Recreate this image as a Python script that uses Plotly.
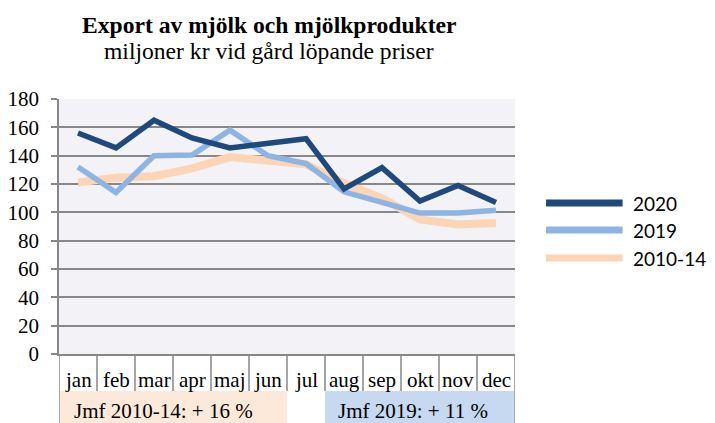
import plotly.graph_objects as go

months = ["jan", "feb", "mar", "apr", "maj", "jun", "jul", "aug", "sep", "okt", "nov", "dec"]
s2020 = [156, 145.5, 165, 152.5, 145.5, 149, 152, 116.5, 131.5, 108, 119, 107]
s2019 = [132, 114, 140, 140.5, 158, 140, 134.5, 114.5, 107, 99.5, 99.5, 101.5]
s1014 = [121, 124.5, 125.5, 131, 139, 137, 134, 120.5, 110, 95, 91.5, 92.5]
series_names = ["2020", "2019", "2010-14"]
series_colors = ["#1F497D", "#8DB4E2", "#FBD5B5"]
series_widths = [5.5, 5.5, 8]
yticks = [0, 20, 40, 60, 80, 100, 120, 140, 160, 180]
notes = ["Jmf 2010-14: + 16 %", "Jmf 2019: + 11 %"]

serif = "Liberation Serif"
x = list(range(len(months)))

fig = go.Figure()
for vals, name, col, w in reversed(list(zip([s2020, s2019, s1014], series_names, series_colors, series_widths))):
    fig.add_trace(go.Scatter(x=x, y=vals, mode="lines", name=name,
                             line=dict(color=col, width=w), showlegend=False))

shapes = []
annotations = []
grey = "#878787"

# note boxes
shapes.append(dict(type="rect", xref="x", yref="paper", x0=-0.47, x1=5.5, y0=-0.145, y1=-0.30,
                   fillcolor="#FDE9D9", line=dict(width=0), layer="below"))
shapes.append(dict(type="rect", xref="x", yref="paper", x0=6.5, x1=11.47, y0=-0.145, y1=-0.30,
                   fillcolor="#C6D9F0", line=dict(width=0), layer="below"))

# category separators below the axis
for i in range(len(months) + 1):
    full = i in (0, len(months))
    shapes.append(dict(type="line", xref="x", yref="paper", x0=i - 0.5, x1=i - 0.5,
                       y0=0, y1=-0.30 if full else -0.145, line=dict(color=grey, width=1.5)))
for i, m in enumerate(months):
    annotations.append(dict(x=i, y=-0.102, xref="x", yref="paper", text=m, showarrow=False,
                            font=dict(family=serif, size=21, color="black"), yanchor="middle"))

annotations.append(dict(x=-0.16, y=-0.224, xref="x", yref="paper", text=notes[0], showarrow=False,
                        xanchor="left", yanchor="middle", font=dict(family=serif, size=21, color="black")))
annotations.append(dict(x=6.8, y=-0.224, xref="x", yref="paper", text=notes[1], showarrow=False,
                        xanchor="left", yanchor="middle", font=dict(family=serif, size=21, color="black")))

# custom legend
leg_y = [0.592, 0.486, 0.376]
for name, col, yy in zip(series_names, series_colors, leg_y):
    shapes.append(dict(type="line", xref="paper", yref="paper", x0=1.068, x1=1.236, y0=yy, y1=yy,
                       line=dict(color=col, width=7)))
    annotations.append(dict(x=1.254, y=yy, xref="paper", yref="paper", text=name, showarrow=False,
                            xanchor="left", yanchor="middle", font=dict(family="Lato", size=19, color="black")))

# titles
annotations.append(dict(x=0.46, y=1.29, xref="paper", yref="paper",
                        text="<b>Export av mjölk och mjölkprodukter</b>", showarrow=False,
                        yanchor="middle", font=dict(family=serif, size=23.6, color="black")))
annotations.append(dict(x=0.46, y=1.188, xref="paper", yref="paper",
                        text="miljoner kr vid gård löpande priser", showarrow=False,
                        yanchor="middle", font=dict(family=serif, size=23.6, color="black")))

fig.update_layout(
    width=707, height=415,
    margin=dict(l=51, r=200, t=91, b=69),
    paper_bgcolor="white", plot_bgcolor="#F3F2F7",
    shapes=shapes, annotations=annotations, showlegend=False,
    xaxis=dict(range=[-0.5, 11.5], showticklabels=False, showgrid=False, zeroline=False,
               showline=True, linecolor=grey, linewidth=1.5, fixedrange=True, automargin=False),
    yaxis=dict(range=[0, 180], tickvals=yticks, showgrid=True, gridcolor=grey, gridwidth=1.5,
               zeroline=False, showline=True, linecolor=grey, linewidth=1.5,
               ticks="outside", ticklen=6, tickcolor=grey, tickwidth=1.5, ticklabelstandoff=8,
               tickfont=dict(family=serif, size=21, color="black"), fixedrange=True, automargin=False),
)

fig.write_html("out.html")
